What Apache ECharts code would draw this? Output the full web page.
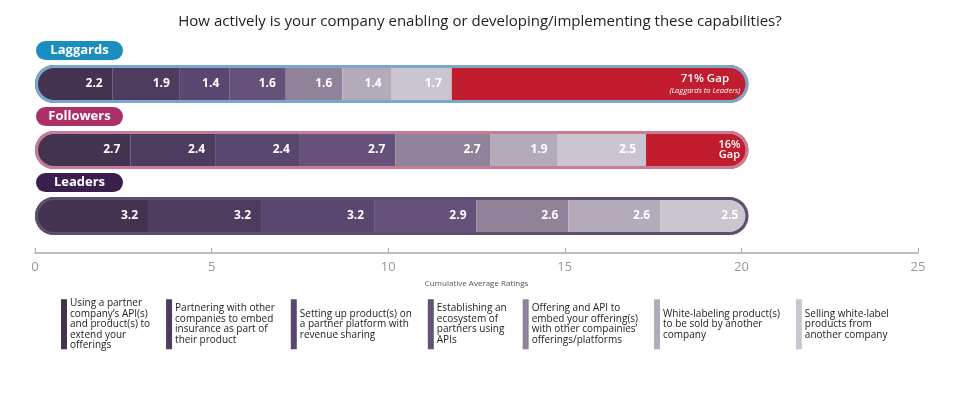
<!DOCTYPE html>
<html>
<head>
<meta charset="utf-8">
<script src="https://cdn.jsdelivr.net/npm/echarts@6/dist/echarts.min.js"></script>
<style>
  html, body { margin: 0; padding: 0; background: #fff; }
  #chart { width: 960px; height: 399px; }
</style>
</head>
<body>
<div id="chart"></div>
<script>
// 分组 (从上到下)
const groups = ['Laggards', 'Followers', 'Leaders']
// 每组七个能力的平均评分
const laggards = [2.2, 1.9, 1.4, 1.6, 1.6, 1.4, 1.7]
const followers = [2.7, 2.4, 2.4, 2.7, 2.7, 1.9, 2.5]
const leaders = [3.2, 3.2, 3.2, 2.9, 2.6, 2.6, 2.5]
// 与 Leaders 的差距段
const gapValues = [8.4, 2.9, 0]
const gapLabels = ['{a|71% Gap}\n{b|(Laggards to Leaders)}', '{c|16%}\n{c|Gap}', '']
const capabilities = [
  'Using a partner\ncompany\u2019s API(s)\nand product(s) to\nextend your\nofferings',
  'Partnering with other\ncompanies to embed\ninsurance as part of\ntheir product',
  'Setting up product(s) on\na partner platform with\nrevenue sharing',
  'Establishing an\necosystem of\npartners using\nAPIs',
  'Offering and API to\nembed your offering(s)\nwith other compainies\u2019\nofferings/platforms',
  'White-labeling product(s)\nto be sold by another\ncompany',
  'Selling white-label\nproducts from\nanother company'
]
const xTicks = [0, 5, 10, 15, 20, 25]

const segColors = ['#433350', '#4e3c5f', '#5a4770', '#66517b', '#8f8299', '#b3abba', '#cac5cf']
const outlineColors = ['#7ba7cc', '#c97c96', '#5e4e6b']
const pillColors = ['#1b8dbf', '#ad2f68', '#3a1f4c']
const FONT = 'Open Sans'

const chart = echarts.init(document.getElementById('chart'))
const rows = [laggards, followers, leaders]

const segSeries = capabilities.map((name, i) => ({
  name: name,
  type: 'bar',
  stack: 'total',
  barWidth: 38,
  barGap: '-100%',
  silent: true,
  itemStyle: { color: segColors[i] },
  label: {
    show: true,
    position: 'insideRight',
    distance: 10,
    color: '#fff',
    fontFamily: FONT,
    fontWeight: 'bold',
    fontSize: 12
  },
  data: rows.map((r, k) => {
    const item = { value: r[i] }
    if (i === 0) item.itemStyle = { borderRadius: [19, 0, 0, 19] }
    if (i === capabilities.length - 1 && gapValues[k] === 0) item.itemStyle = { borderRadius: [0, 19, 19, 0] }
    return item
  })
}))

const gapSeries = {
  name: 'gap',
  type: 'bar',
  stack: 'total',
  barWidth: 38,
  barGap: '-100%',
  silent: true,
  itemStyle: { color: '#c11d2e', borderRadius: [0, 19, 19, 0] },
  label: {
    show: true,
    position: 'insideRight',
    distance: 8,
    formatter: (p) => gapLabels[p.dataIndex],
    rich: {
      a: { color: '#fff', fontFamily: FONT, fontSize: 11.5, fontWeight: 600, align: 'center', lineHeight: 13 },
      b: { color: '#fff', fontFamily: FONT, fontSize: 7.5, fontStyle: 'italic', align: 'center', lineHeight: 10 },
      c: { color: '#fff', fontFamily: FONT, fontSize: 11, fontWeight: 600, align: 'center', lineHeight: 10 }
    }
  },
  data: gapValues
}

// 外框: 每行的总长度
const outlineSeries = {
  name: 'outline',
  type: 'bar',
  barWidth: 38,
  barGap: '-100%',
  silent: true,
  z: 5,
  data: rows.map((r, k) => ({
    value: +(r.reduce((s, v) => s + v, 0) + gapValues[k]).toFixed(1),
    itemStyle: { color: 'rgba(0,0,0,0)', borderColor: outlineColors[k], borderWidth: 3, borderRadius: 19 }
  }))
}

const option = {
  animation: false,
  textStyle: { fontFamily: FONT },
  title: {
    text: 'How actively is your company enabling or developing/implementing these capabilities?',
    left: 'center',
    top: 9,
    textStyle: { fontFamily: FONT, fontSize: 15, fontWeight: 'normal', color: '#222' }
  },
  legend: {
    data: capabilities,
    left: 61,
    top: 298,
    padding: 0,
    icon: 'rect',
    itemWidth: 6,
    itemHeight: 50,
    itemGap: 16,
    selectedMode: false,
    textStyle: { fontFamily: FONT, fontSize: 10, lineHeight: 10.5, color: '#222', padding: [0, 0, 0, -2] }
  },
  grid: { left: 35, right: 42, top: 51, bottom: 150 },
  xAxis: {
    type: 'value',
    min: 0,
    max: 25,
    interval: 5,
    offset: 4,
    splitLine: { show: false },
    axisLine: { show: true, lineStyle: { color: '#aaa', width: 1.5 } },
    axisTick: { show: true, inside: true, length: 5, lineStyle: { color: '#aaa' } },
    axisLabel: { color: '#999', fontSize: 13, margin: 8, fontFamily: FONT, formatter: (v) => xTicks.includes(v) ? v : '' },
    name: 'Cumulative Average Ratings',
    nameLocation: 'middle',
    nameGap: 27,
    nameTextStyle: { fontSize: 8, color: '#555', fontFamily: FONT }
  },
  yAxis: {
    type: 'category',
    inverse: true,
    data: groups,
    axisLine: { show: false },
    axisTick: { show: false },
    axisLabel: { show: false }
  },
  series: [...segSeries, gapSeries, outlineSeries]
}
chart.setOption(option)

// 分组标签 (胶囊)
const pills = groups.map((g, k) => {
  const pt = chart.convertToPixel({ gridIndex: 0 }, [0, k])
  return {
    type: 'group',
    x: pt[0] + 1,
    y: pt[1] - 43,
    children: [
      { type: 'rect', shape: { x: 0, y: 0, width: 87, height: 19, r: 9.5 }, style: { fill: pillColors[k] } },
      { type: 'text', x: 43.5, y: 9.5, style: { text: g, fill: '#fff', font: 'bold 13px "' + FONT + '"', align: 'center', verticalAlign: 'middle' } }
    ]
  }
})
chart.setOption({ graphic: pills })
</script>
</body>
</html>
